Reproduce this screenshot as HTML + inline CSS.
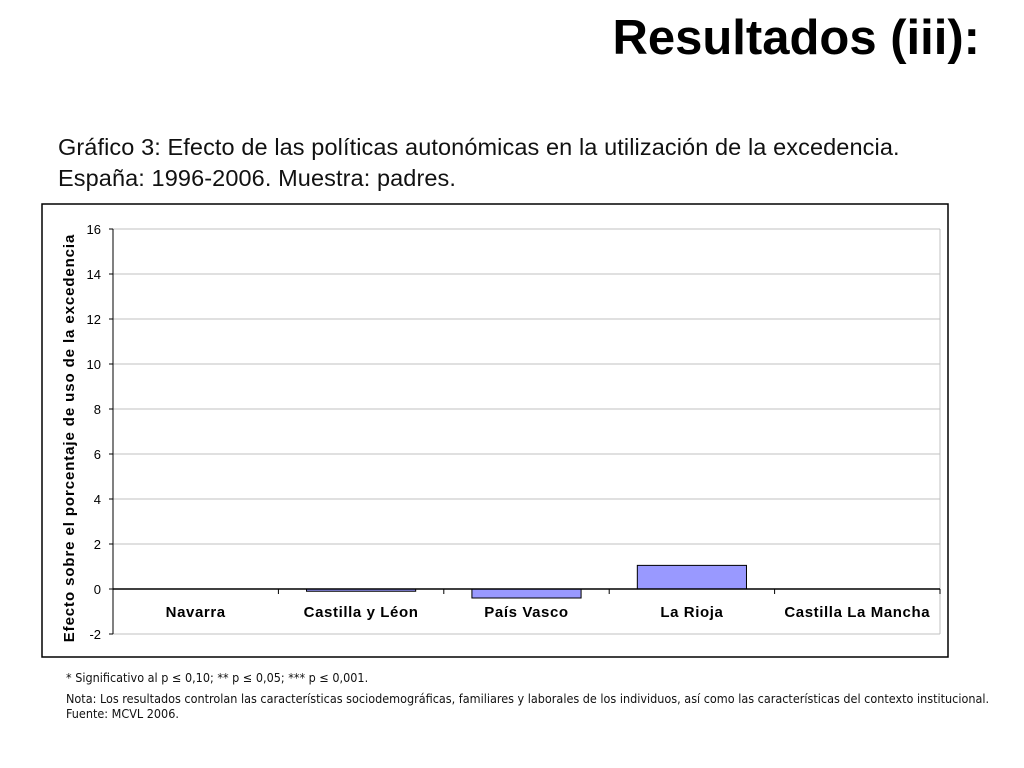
<!DOCTYPE html>
<html><head><meta charset="utf-8"><style>
body{margin:0;width:1024px;height:768px;background:#fff;font-family:"Liberation Sans",sans-serif;overflow:hidden;position:relative}
.t{position:absolute}
</style></head><body>
<div class="t" style="right:44px;top:10px;font-size:49px;font-weight:bold;font-family:'Liberation Sans',sans-serif">Resultados (iii):</div>
<div class="t" style="left:58px;top:132px;font-size:23.5px;line-height:31px;color:#111;letter-spacing:0.1px">Gráfico 3: Efecto de las políticas autonómicas en la utilización de la excedencia.<br>España: 1996-2006. Muestra: padres.</div>
<svg class="t" style="left:0;top:0" width="1024" height="768" id="chart">
<rect x="42" y="204" width="906" height="453" fill="#fff" stroke="#000" stroke-width="1.5"/>
<text x="74" y="438" font-size="15" font-weight="bold" letter-spacing="0.9" text-anchor="middle" transform="rotate(-90 74 438)">Efecto sobre el porcentaje de uso de la excedencia</text>
<g id="g"></g>
</svg>
<div class="t" style="left:66px;top:670px;font-size:12.5px;line-height:15px;font-family:'DejaVu Sans Condensed','DejaVu Sans',sans-serif;font-stretch:condensed;color:#111">* Significativo al p ≤ 0,10; ** p ≤ 0,05; *** p ≤ 0,001.<div style="margin-top:6px">Nota: Los resultados controlan las características sociodemográficas, familiares y laborales de los individuos, así como las características del contexto institucional.<br>Fuente: MCVL 2006.</div></div>
<script>
const categories=["Navarra","Castilla y Léon","País Vasco","La Rioja","Castilla La Mancha"];
const values=[0,-0.1,-0.4,1.05,0];
const ticks=[-2,0,2,4,6,8,10,12,14,16];
const X0=113,X1=940,Y0=634,Y1=229,ymin=-2,ymax=16;
const y=v=>Y0-(v-ymin)/(ymax-ymin)*(Y0-Y1);
const cw=(X1-X0)/categories.length;
const x=i=>X0+i*cw;
const g=document.getElementById('g');const NS="http://www.w3.org/2000/svg";
function mk(t,a){const e=document.createElementNS(NS,t);for(const k in a)e.setAttribute(k,a[k]);g.appendChild(e);return e;}
ticks.forEach(t=>{
 const l=mk('line',{x1:X0,x2:X1,y1:y(t),y2:y(t),stroke:'#c0c0c0','stroke-width':1});
 
 
 const tx=mk('text',{x:X0-12,y:y(t)+5,'font-size':13,'text-anchor':'end'});tx.textContent=t;
 
 
 mk('line',{x1:X0-4,x2:X0,y1:y(t),y2:y(t),stroke:'#000'});
});
mk('line',{x1:X1,x2:X1,y1:Y1,y2:Y0,stroke:'#c0c0c0'});
mk('line',{x1:X0,x2:X1,y1:Y0,y2:Y0,stroke:'#c0c0c0'});
mk('line',{x1:X0,x2:X0,y1:Y1,y2:Y0,stroke:'#000'});
categories.forEach((c,i)=>{
 const v=values[i];const bw=cw*0.66;const bx=x(i)+(cw-bw)/2;
 const r=mk('rect',{x:bx,y:Math.min(y(v),y(0)),width:bw,height:Math.abs(y(v)-y(0)),fill:'#9999ff',stroke:'#000','stroke-width':1});
 
 
 const t=mk('text',{x:x(i)+cw/2,y:y(0)+28,'font-size':15,'font-weight':'bold','letter-spacing':0.6,'text-anchor':'middle'});t.textContent=c;
 
 
 mk('line',{x1:x(i+1),x2:x(i+1),y1:y(0),y2:y(0)+5,stroke:'#000'});
});
mk('line',{x1:X0,x2:X1,y1:y(0),y2:y(0),stroke:'#000','stroke-width':1.5});
</script>
</body></html>
